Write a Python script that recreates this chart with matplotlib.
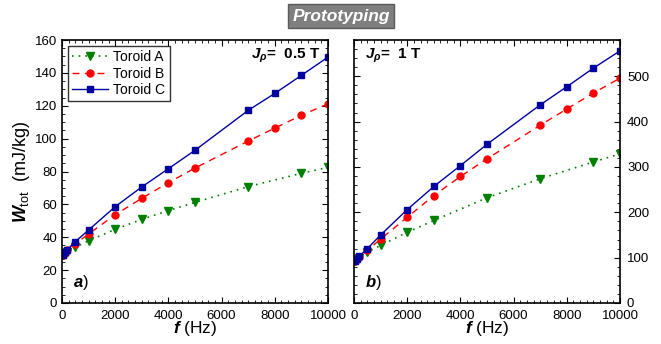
import matplotlib
matplotlib.use("Agg")
import matplotlib.pyplot as plt
from matplotlib.ticker import MultipleLocator

plt.rcParams["font.family"] = ["Liberation Sans", "DejaVu Sans"]
plt.rcParams["mathtext.fontset"] = "custom"
plt.rcParams["mathtext.it"] = "Liberation Sans:italic:bold"
plt.rcParams["mathtext.rm"] = "Liberation Sans"
plt.rcParams["mathtext.bf"] = "Liberation Sans:bold"

# frequencies (Hz)
f_bc = [20, 50, 100, 200, 500, 1000, 2000, 3000, 4000, 5000, 7000, 8000, 9000, 10000]
f_a1 = [20, 50, 100, 200, 500, 1000, 2000, 3000, 4000, 5000, 7000, 9000, 10000]
f_a2 = [20, 50, 100, 200, 500, 1000, 2000, 3000, 5000, 7000, 9000, 10000]

# Jp = 0.5 T
wa_05 = [29, 29.5, 30, 31, 33.9, 37.9, 44.8, 50.9, 56.2, 61.2, 70.8, 78.9, 82.5]
wb_05 = [29, 29.5, 30.5, 32.2, 36, 42, 53.7, 63.7, 73.2, 82.1, 98.5, 106.4, 114.2, 121.2]
wc_05 = [29.5, 30, 30.8, 32.5, 37.3, 44.4, 58.6, 70.6, 81.7, 92.9, 117.2, 127.5, 138.5, 149.6]

# Jp = 1 T
wa_1 = [92, 94, 96, 100, 112, 127, 156, 182, 232, 274, 311, 329]
wb_1 = [92, 94, 96, 101, 116, 141, 189, 237, 279, 318, 392, 428, 463, 496]
wc_1 = [93, 95, 97, 103, 120, 150, 206, 257, 303, 350, 437, 477, 518, 556]

c_a, c_b, c_c = "#008000", "#ff0000", "#0000a0"
tick_font = ["Liberation Sans Narrow", "Liberation Sans"]

fig = plt.figure(figsize=(6.61, 3.44), dpi=100)
ax1 = fig.add_axes([0.0938, 0.1192, 0.4024, 0.7645])
ax2 = fig.add_axes([0.5356, 0.1192, 0.4024, 0.7645])


def draw(ax, fa, wa, wb, wc):
    ax.plot(fa, wa, ls=(0, (1, 3)), color=c_a, lw=1.2, marker="v", ms=5.5, label="Toroid A")
    ax.plot(f_bc, wb, ls=(0, (5, 4)), color=c_b, lw=1, marker="o", ms=5, label="Toroid B")
    ax.plot(f_bc, wc, ls="-", color=c_c, lw=1, marker="s", ms=4.5, label="Toroid C")
    ax.set_xlim(0, 10000)
    ax.xaxis.set_major_locator(MultipleLocator(2000))
    ax.xaxis.set_minor_locator(MultipleLocator(250))
    ax.tick_params(which="both", direction="in", top=True, right=True,
                   labelsize=9.5, labelfontfamily=tick_font)
    ax.tick_params(which="major", length=4, width=0.8)
    ax.tick_params(which="minor", length=2, width=0.6)
    ax.tick_params(axis="x", pad=5)
    for s in ax.spines.values():
        s.set_linewidth(1.2)
    ax.set_xlabel(r"$\mathit{f}$ (Hz)", fontsize=12.5, labelpad=-2)


draw(ax1, f_a1, wa_05, wb_05, wc_05)
ax1.set_ylim(0, 160)
ax1.yaxis.set_major_locator(MultipleLocator(20))
ax1.yaxis.set_minor_locator(MultipleLocator(5))
ax1.set_ylabel(r"$\mathit{W}_{\rm tot}$  (mJ/kg)", fontsize=13, labelpad=2)
leg = ax1.legend(loc="upper left", fontsize=10, frameon=True, fancybox=False,
                 edgecolor="black", handlelength=2.6, borderpad=0.3,
                 labelspacing=0.2, handletextpad=0.4, borderaxespad=0.4)
leg.get_frame().set_linewidth(1)
ax1.text(0.97, 0.94, r"$\mathit{J}_{\rho}$=  0.5 T", transform=ax1.transAxes,
         ha="right", va="center", fontsize=11, fontweight="bold")
ax1.text(0.04, 0.06, r"$\mathit{a}$)", transform=ax1.transAxes, fontsize=12)

draw(ax2, f_a2, wa_1, wb_1, wc_1)
ax2.set_ylim(0, 580)
ax2.yaxis.set_major_locator(MultipleLocator(100))
ax2.yaxis.set_minor_locator(MultipleLocator(20))
ax2.tick_params(axis="y", labelleft=False, labelright=True, pad=5)
ax2.text(0.04, 0.94, r"$\mathit{J}_{\rho}$=  1 T", transform=ax2.transAxes,
         ha="left", va="center", fontsize=11, fontweight="bold")
ax2.text(0.04, 0.06, r"$\mathit{b}$)", transform=ax2.transAxes, fontsize=12)

fig.text(0.516, 0.953, "Prototyping", ha="center", va="center", fontsize=12.5,
         fontweight="bold", style="italic", color="white",
         bbox=dict(boxstyle="square,pad=0.25", facecolor="#7f7f7f", edgecolor="#5a5a5a", lw=1))

fig.savefig("out.png", dpi=100)
